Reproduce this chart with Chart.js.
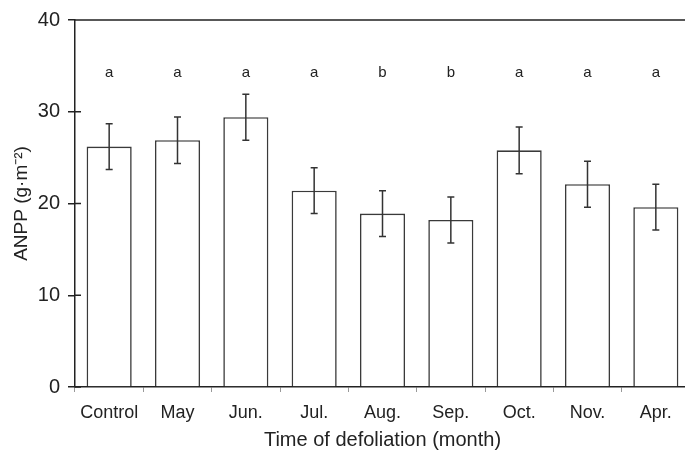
<!DOCTYPE html>
<html>
<head>
<meta charset="utf-8">
<script src="https://cdn.jsdelivr.net/npm/chart.js@4"></script>
<style>
  html, body { margin: 0; padding: 0; background: #fff; overflow: hidden; }
  #wrap { width: 690px; height: 454px; }
</style>
</head>
<body>
<div id="wrap"><canvas id="anppChart"></canvas></div>
<script>
// ANPP by defoliation month, mean ± SE, with significance letters
const months = ["Control", "May", "Jun.", "Jul.", "Aug.", "Sep.", "Oct.", "Nov.", "Apr."];
const anpp = [26.2, 26.9, 29.4, 21.4, 18.9, 18.2, 25.8, 22.1, 19.6];
const anppErr = [2.5, 2.53, 2.5, 2.5, 2.5, 2.5, 2.55, 2.5, 2.5];
const sigLetters = ["a", "a", "a", "a", "b", "b", "a", "a", "a"];
const letterLevel = 34.2;
const yTicks = [0, 10, 20, 30, 40];

const ink = "#222";

// error bars, letters, top frame line and inner y ticks
const extras = {
    id: "extras",
    afterDatasetsDraw(chart) {
        const ctx = chart.ctx;
        const y = chart.scales.y;
        const area = chart.chartArea;
        const bars = chart.getDatasetMeta(0).data;
        ctx.save();
        ctx.strokeStyle = "#333";
        ctx.lineWidth = 1.5;
        bars.forEach((bar, i) => {
            const top = y.getPixelForValue(anpp[i] + anppErr[i]);
            const bot = y.getPixelForValue(anpp[i] - anppErr[i]);
            ctx.beginPath();
            ctx.moveTo(bar.x, top); ctx.lineTo(bar.x, bot);
            ctx.moveTo(bar.x - 3.5, top); ctx.lineTo(bar.x + 3.5, top);
            ctx.moveTo(bar.x - 3.5, bot); ctx.lineTo(bar.x + 3.5, bot);
            ctx.stroke();
        });

        ctx.fillStyle = ink;
        ctx.font = "15px 'Liberation Sans', Arial, sans-serif";
        ctx.textAlign = "center";
        ctx.textBaseline = "middle";
        bars.forEach((bar, i) => {
            ctx.fillText(sigLetters[i], bar.x, y.getPixelForValue(letterLevel));
        });

        ctx.strokeStyle = ink;
        ctx.lineWidth = 1.5;
        ctx.beginPath();
        ctx.moveTo(area.left, area.top);
        ctx.lineTo(area.right, area.top);
        yTicks.forEach(v => {
            const py = y.getPixelForValue(v);
            ctx.moveTo(area.left, py);
            ctx.lineTo(area.left + 6, py);
        });
        ctx.stroke();
        ctx.restore();
    }
};

new Chart(document.getElementById("anppChart"), {
    type: "bar",
    data: {
        labels: months,
        datasets: [{
            data: anpp,
            backgroundColor: "#fff",
            borderColor: "#3a3a3a",
            borderWidth: 1.6,
            barPercentage: 0.66,
            categoryPercentage: 1
        }]
    },
    options: {
        responsive: true,
        maintainAspectRatio: false,
        animation: false,
        events: [],
        layout: { padding: { top: 18, right: 0, bottom: 0, left: 0 } },
        plugins: { legend: { display: false }, tooltip: { enabled: false } },
        scales: {
            x: {
                afterFit(s) { s.height = 67; },
                grid: { drawOnChartArea: false, offset: true, tickLength: 5, color: "#999", lineWidth: 1 },
                border: { display: true, color: ink, width: 1.5 },
                ticks: { color: ink, padding: 10, font: { size: 18, family: "'Liberation Sans', Arial, sans-serif" } },
                title: {
                    display: true,
                    text: "Time of defoliation (month)",
                    color: ink,
                    padding: { top: 0, bottom: 2 },
                    font: { size: 20, family: "'Liberation Sans', Arial, sans-serif" }
                }
            },
            y: {
                min: 0,
                max: 40,
                afterFit(s) { s.width = 75; },
                afterBuildTicks(s) { s.ticks = yTicks.map(v => ({ value: v })); },
                grid: { drawOnChartArea: false, tickLength: 7, color: ink, lineWidth: 1.5 },
                border: { display: true, color: ink, width: 1.5 },
                ticks: { color: ink, padding: 8, font: { size: 20, family: "'Liberation Sans', Arial, sans-serif" } },
                title: {
                    display: true,
                    text: "ANPP (g·m⁻²)",
                    color: ink,
                    padding: { top: 10, bottom: 0 },
                    font: { size: 19, family: "'Liberation Sans', Arial, sans-serif" }
                }
            }
        }
    },
    plugins: [extras]
});
</script>
</body>
</html>
